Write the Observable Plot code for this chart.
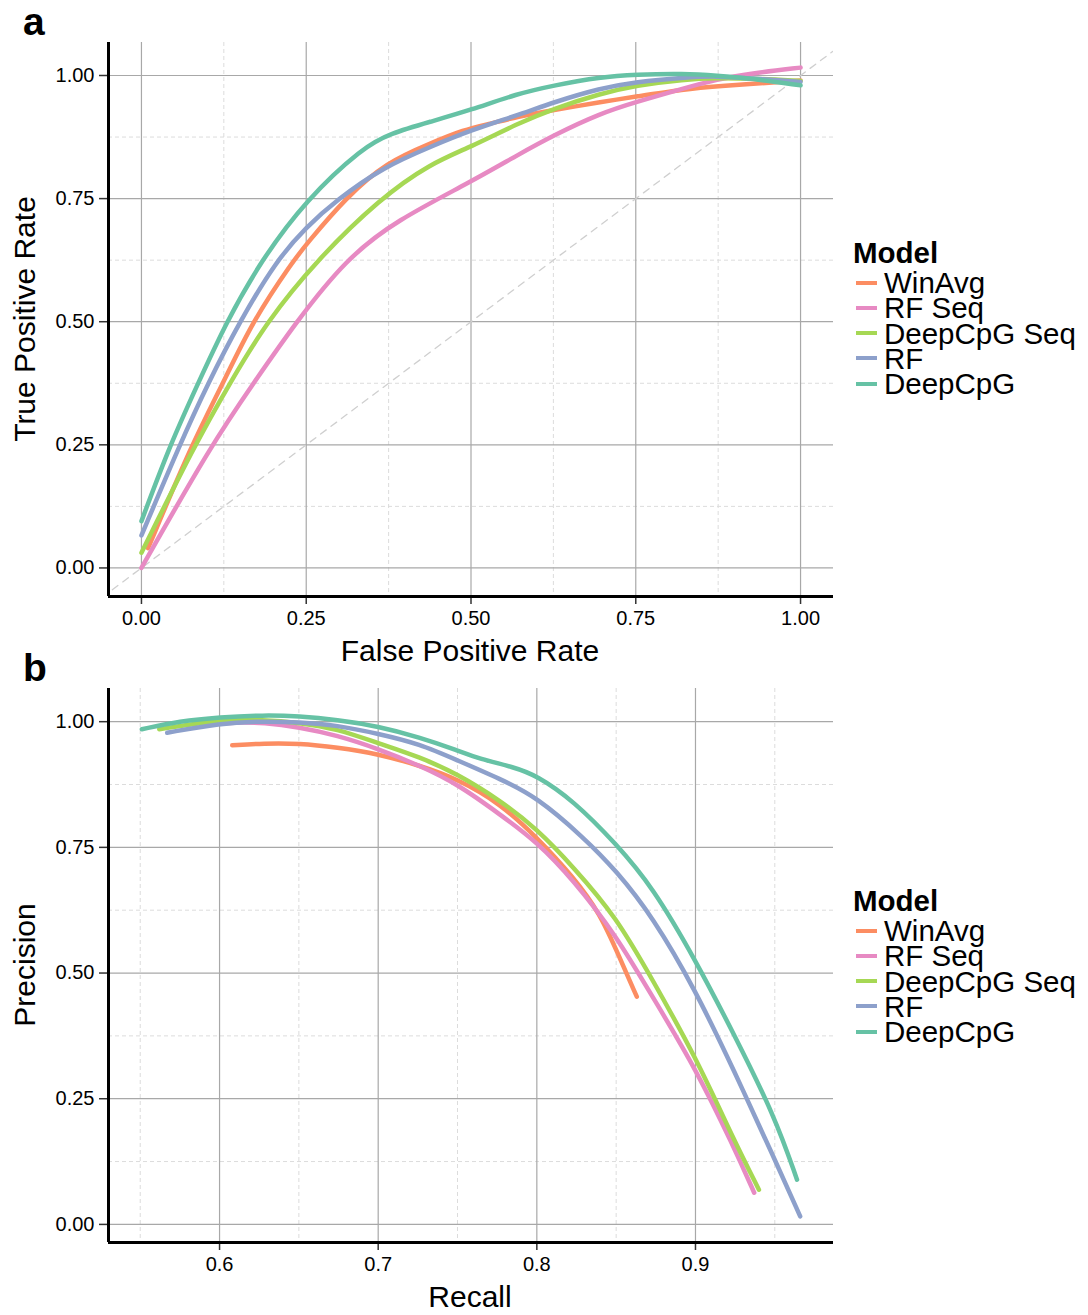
<!DOCTYPE html>
<html>
<head>
<meta charset="utf-8">
<script src="https://cdn.jsdelivr.net/npm/d3@7"></script>
<script src="https://cdn.jsdelivr.net/npm/@observablehq/plot@0.6"></script>
<style>
  html, body { margin: 0; padding: 0; background: #fff; }
  body { width: 1088px; height: 1315px; position: relative; overflow: hidden;
         font-family: Helvetica, "Liberation Sans", Arial, sans-serif; color: #000; }
  .panel { position: absolute; left: 0; }
  .letter { position: absolute; font-weight: bold; font-size: 39px; line-height: 1; }
  .ytitle { position: absolute; font-size: 30px; white-space: nowrap; transform: translate(-50%, -50%) rotate(-90deg); }
  .xtitle { position: absolute; font-size: 30px; white-space: nowrap; transform: translate(-50%, -50%); }
  .legend { position: absolute; left: 853px; font-size: 29.5px; line-height: 25.2px; }
  .legend .head { font-weight: bold; margin-bottom: 5px; }
  .legend .item { display: flex; align-items: center; white-space: nowrap; }
  .legend .sw { width: 21px; height: 4px; margin-left: 3px; margin-right: 7px; }
</style>
</head>
<body>
<div id="root"></div>
<script>
// ---------- Data ----------
const models = ["WinAvg", "RF Seq", "DeepCpG Seq", "RF", "DeepCpG"];
const colors = ["#fc8d62", "#e78ac3", "#a6d854", "#8da0cb", "#66c2a5"];

// Panel a: ROC (False Positive Rate, True Positive Rate)
const rocWinAvgX = [0.01, 0.076, 0.124, 0.168, 0.231, 0.25, 0.311, 0.372, 0.438, 0.489, 0.529, 0.57, 0.626, 0.696, 0.75, 0.823, 0.873, 1.0];
const rocWinAvgY = [0.04, 0.25, 0.375, 0.5, 0.625, 0.657, 0.753, 0.824, 0.862, 0.89, 0.902, 0.916, 0.93, 0.946, 0.957, 0.972, 0.978, 0.99];
const rocRFSeqX = [0, 0.106, 0.17, 0.235, 0.311, 0.387, 0.5, 0.57, 0.626, 0.696, 0.75, 0.823, 0.873, 0.924, 1.0];
const rocRFSeqY = [0.0, 0.25, 0.375, 0.5, 0.628, 0.706, 0.784, 0.838, 0.879, 0.923, 0.946, 0.974, 0.992, 1.004, 1.016];
const rocDeepSeqX = [0, 0.081, 0.134, 0.19, 0.266, 0.362, 0.438, 0.5, 0.57, 0.626, 0.696, 0.75, 0.823, 0.873, 0.924, 1.0];
const rocDeepSeqY = [0.031, 0.25, 0.375, 0.5, 0.625, 0.75, 0.821, 0.855, 0.902, 0.933, 0.963, 0.98, 0.992, 0.995, 0.994, 0.989];
const rocRFX = [0, 0.058, 0.101, 0.149, 0.205, 0.25, 0.296, 0.367, 0.438, 0.5, 0.57, 0.626, 0.696, 0.75, 0.823, 0.873, 0.924, 1.0];
const rocRFY = [0.066, 0.25, 0.375, 0.5, 0.625, 0.692, 0.747, 0.814, 0.855, 0.889, 0.919, 0.946, 0.974, 0.987, 0.996, 0.999, 0.994, 0.987];
const rocDeepX = [0, 0.044, 0.086, 0.129, 0.182, 0.25, 0.337, 0.377, 0.438, 0.5, 0.57, 0.626, 0.696, 0.75, 0.823, 0.873, 0.924, 1.0];
const rocDeepY = [0.095, 0.252, 0.375, 0.5, 0.625, 0.748, 0.855, 0.882, 0.906, 0.93, 0.963, 0.98, 0.997, 1.002, 1.004, 1.0, 0.994, 0.98];

// Panel b: Precision-Recall (Recall, Precision)
const prWinAvgX = [0.608, 0.628, 0.65, 0.674, 0.7, 0.726, 0.75, 0.777, 0.8, 0.823, 0.84, 0.852, 0.863];
const prWinAvgY = [0.953, 0.957, 0.957, 0.949, 0.936, 0.913, 0.886, 0.837, 0.77, 0.691, 0.618, 0.532, 0.453];
const prRFSeqX = [0.59, 0.61, 0.628, 0.65, 0.674, 0.7, 0.726, 0.75, 0.777, 0.8, 0.823, 0.85, 0.873, 0.9, 0.924, 0.937];
const prRFSeqY = [0.994, 0.999, 0.998, 0.989, 0.973, 0.946, 0.913, 0.876, 0.815, 0.761, 0.685, 0.575, 0.452, 0.311, 0.155, 0.063];
const prDeepSeqX = [0.562, 0.6, 0.628, 0.65, 0.674, 0.7, 0.726, 0.75, 0.777, 0.8, 0.823, 0.85, 0.873, 0.9, 0.924, 0.94];
const prDeepSeqY = [0.985, 1.004, 1.004, 0.998, 0.986, 0.957, 0.93, 0.896, 0.843, 0.787, 0.711, 0.612, 0.486, 0.334, 0.169, 0.069];
const prRFX = [0.567, 0.6, 0.628, 0.65, 0.674, 0.7, 0.726, 0.75, 0.777, 0.8, 0.829, 0.85, 0.873, 0.9, 0.924, 0.95, 0.966];
const prRFY = [0.978, 0.997, 1.001, 0.999, 0.993, 0.976, 0.956, 0.923, 0.886, 0.85, 0.771, 0.704, 0.612, 0.466, 0.308, 0.129, 0.016];
const prDeepX = [0.551, 0.575, 0.6, 0.628, 0.65, 0.674, 0.7, 0.726, 0.75, 0.764, 0.785, 0.8, 0.823, 0.85, 0.873, 0.9, 0.924, 0.95, 0.964];
const prDeepY = [0.985, 1.001, 1.009, 1.013, 1.011, 1.004, 0.991, 0.969, 0.943, 0.926, 0.91, 0.893, 0.843, 0.757, 0.671, 0.526, 0.38, 0.215, 0.089];

// Axis ticks
const rocTicks = [0, 0.25, 0.5, 0.75, 1];
const rocMinor = [0.125, 0.375, 0.625, 0.875];
const prXTicks = [0.6, 0.7, 0.8, 0.9];
const prXMinor = [0.55, 0.65, 0.75, 0.85, 0.95];
const prYTicks = [0, 0.25, 0.5, 0.75, 1];
const prYMinor = [0.125, 0.375, 0.625, 0.875];
const diagonal = [-0.06, 1.07];

// ---------- Build tables ----------
function table(series) {
  const rows = [];
  series.forEach(([m, xs, ys]) => xs.forEach((x, i) => rows.push({model: m, x, y: ys[i]})));
  return rows;
}
const rocData = table([
  ["WinAvg", rocWinAvgX, rocWinAvgY], ["RF Seq", rocRFSeqX, rocRFSeqY],
  ["DeepCpG Seq", rocDeepSeqX, rocDeepSeqY], ["RF", rocRFX, rocRFY], ["DeepCpG", rocDeepX, rocDeepY]
]);
const prData = table([
  ["WinAvg", prWinAvgX, prWinAvgY], ["RF Seq", prRFSeqX, prRFSeqY],
  ["DeepCpG Seq", prDeepSeqX, prDeepSeqY], ["RF", prRFX, prRFY], ["DeepCpG", prDeepX, prDeepY]
]);

function panel({data, xDomain, yDomain, xTicks, xMinor, yTicks, yMinor, xFmt, height, marginTop, marginBottom, diag}) {
  const marks = [
    Plot.gridX(xMinor, {stroke: "#dcdcdc", strokeOpacity: 1, strokeWidth: 1, strokeDasharray: "4,3"}),
    Plot.gridY(yMinor, {stroke: "#dcdcdc", strokeOpacity: 1, strokeWidth: 1, strokeDasharray: "4,3"}),
    Plot.gridX(xTicks, {stroke: "#a8a8a8", strokeOpacity: 1, strokeWidth: 1.2}),
    Plot.gridY(yTicks, {stroke: "#a8a8a8", strokeOpacity: 1, strokeWidth: 1.2}),
  ];
  if (diag) marks.push(Plot.line(diagonal, {x: d => d, y: d => d, stroke: "#cfcfcf", strokeWidth: 1.3, strokeDasharray: "7,6", clip: true}));
  marks.push(
    Plot.line(data, {x: "x", y: "y", z: "model", stroke: "model", strokeWidth: 4.5, curve: "basis", clip: true}),
    Plot.axisX(xTicks, {tickSize: 8, tickPadding: 6, tickFormat: d3.format(xFmt), stroke: "#333", strokeWidth: 1.5, fontSize: 20, label: null}),
    Plot.axisY(yTicks, {tickSize: 9, tickPadding: 5, tickFormat: d3.format(".2f"), stroke: "#333", strokeWidth: 1.5, fontSize: 20, label: null}),
    Plot.ruleX([xDomain[0]], {stroke: "#000", strokeWidth: 3}),
    Plot.ruleY([yDomain[0]], {stroke: "#000", strokeWidth: 3})
  );
  return Plot.plot({
    width: 840, height, marginLeft: 108, marginRight: 7, marginTop, marginBottom,
    style: {fontFamily: 'Helvetica, "Liberation Sans", Arial, sans-serif', fontSize: "20px", color: "#000", background: "#fff", overflow: "visible"},
    x: {domain: xDomain, axis: null},
    y: {domain: yDomain, axis: null},
    color: {domain: models, range: colors},
    marks
  });
}

const root = document.getElementById("root");

function addPanel(top, svg) {
  const d = document.createElement("div");
  d.className = "panel"; d.style.top = top + "px";
  d.appendChild(svg); root.appendChild(d);
}
function addText(cls, text, left, top) {
  const d = document.createElement("div");
  d.className = cls; d.textContent = text;
  d.style.left = left + "px"; d.style.top = top + "px";
  root.appendChild(d);
}
function addLegend(top) {
  const d = document.createElement("div");
  d.className = "legend"; d.style.top = top + "px";
  const h = document.createElement("div"); h.className = "head"; h.textContent = "Model"; d.appendChild(h);
  models.forEach((m, i) => {
    const it = document.createElement("div"); it.className = "item";
    const sw = document.createElement("span"); sw.className = "sw"; sw.style.background = colors[i];
    const t = document.createElement("span"); t.textContent = m;
    it.appendChild(sw); it.appendChild(t); d.appendChild(it);
  });
  root.appendChild(d);
}

addPanel(0, panel({
  data: rocData, xDomain: [-0.05, 1.05], yDomain: [-0.058, 1.067],
  xTicks: rocTicks, xMinor: rocMinor, yTicks: rocTicks, yMinor: rocMinor, xFmt: ".2f",
  height: 660, marginTop: 42, marginBottom: 64, diag: true
}));
addPanel(660, panel({
  data: prData, xDomain: [0.530, 0.987], yDomain: [-0.036, 1.066],
  xTicks: prXTicks, xMinor: prXMinor, yTicks: prYTicks, yMinor: prYMinor, xFmt: ".1f",
  height: 655, marginTop: 28, marginBottom: 73, diag: false
}));

addText("letter", "a", 23, 2);
addText("letter", "b", 23, 648);
addText("ytitle", "True Positive Rate", 25, 319);
addText("xtitle", "False Positive Rate", 470, 651);
addText("ytitle", "Precision", 25, 965);
addText("xtitle", "Recall", 470, 1297);
addLegend(240);
addLegend(888);
</script>
</body>
</html>
